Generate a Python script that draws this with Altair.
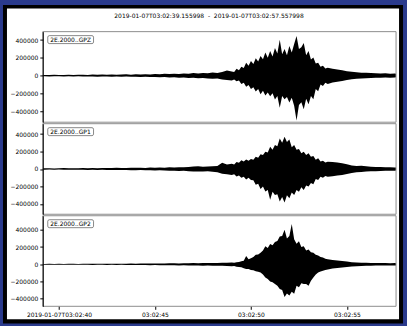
import altair as alt
import pandas as pd

FONT = "DejaVu Sans"
BLUE = "#2a3a8c"

# sample times (seconds after 03:02:00)
times = [39.156,
         39.25, 39.5, 39.75, 40.0, 40.25, 40.5, 40.75, 41.0,
         41.25, 41.5, 41.75, 42.0, 42.25, 42.5, 42.75, 43.0,
         43.25, 43.5, 43.75, 44.0, 44.25, 44.5, 44.75, 45.0,
         45.25, 45.5, 45.75, 46.0, 46.25, 46.5, 46.75, 47.0,
         47.25, 47.5, 47.75, 48.0, 48.25, 48.5, 48.75, 49.0,
         49.25, 49.5, 49.75, 50.0, 50.25, 50.5, 50.75, 51.0,
         51.25, 51.5, 51.75, 52.0, 52.25, 52.5, 52.75, 53.0,
         53.25, 53.5, 53.75, 54.0, 54.25, 54.5, 54.75, 55.0,
         55.25, 55.5, 55.75, 56.0, 56.25, 56.5, 56.75, 57.0, 57.25, 57.5,
         57.558]
# extra samples in the strong-motion part
mid_times = [49.125, 49.375, 49.625, 49.875, 50.125, 50.375, 50.625, 50.875,
             51.125, 51.375, 51.625, 51.875, 52.125, 52.375, 52.625, 52.875,
             53.125, 53.375, 53.625, 53.875]

# envelopes, in thousands of counts (upper max, lower |min|)
gpz_upper = [7,
             8, 6, 9, 7, 8, 10, 7, 9,
             10, 8, 12, 9, 11, 10, 13, 9,
             12, 14, 10, 15, 12, 16, 13, 18,
             15, 20, 17, 22, 18, 25, 20, 28,
             24, 30, 26, 34, 30, 40, 58, 45,
             78, 100, 145, 165, 195, 222, 260, 278,
             310, 405, 300, 333, 355, 300, 366, 278,
             205, 145, 111, 89, 78, 69, 61, 50,
             42, 39, 33, 31, 29, 27, 24, 26, 22, 23,
             20]
gpz_upper_mid = [40, 60, 85, 110, 130, 160, 185, 200,
                 215, 250, 240, 230, 260, 446, 320, 230,
                 180, 135, 100, 80]
gpz_lower = [7,
             7, 9, 6, 8, 9, 7, 10, 8,
             9, 11, 10, 12, 10, 9, 12, 11,
             13, 11, 14, 12, 15, 13, 17, 15,
             18, 16, 21, 19, 24, 22, 26, 25,
             30, 27, 32, 36, 33, 45, 50, 55,
             65, 95, 125, 150, 180, 209, 225, 232,
             270, 362, 267, 303, 340, 330, 378, 322,
             267, 175, 118, 95, 78, 70, 62, 50,
             40, 36, 32, 30, 28, 25, 24, 22, 23, 21,
             20]
gpz_lower_mid = [45, 55, 80, 105, 130, 150, 170, 190,
                 200, 230, 230, 240, 250, 507, 300, 260,
                 230, 150, 100, 80]

gp1_upper = [7,
             7, 9, 6, 8, 10, 7, 9, 8,
             10, 9, 11, 8, 12, 10, 11, 13,
             12, 11, 14, 13, 15, 12, 16, 14,
             17, 15, 19, 18, 21, 20, 24, 28,
             30, 26, 28, 32, 35, 72, 50, 60,
             80, 100, 110, 115, 140, 170, 198, 255,
             274, 350, 370, 339, 274, 230, 198, 179,
             150, 122, 95, 84, 80, 75, 65, 55,
             40, 35, 38, 30, 26, 24, 22, 20, 19, 18,
             18]
gp1_upper_mid = [50, 70, 85, 95, 105, 130, 160, 190,
                 220, 260, 300, 310, 250, 220, 180, 160,
                 140, 105, 85, 75]
gp1_lower = [8,
             8, 7, 9, 7, 9, 8, 10, 8,
             9, 11, 10, 12, 9, 11, 13, 12,
             13, 12, 15, 14, 13, 16, 15, 17,
             16, 18, 20, 19, 22, 21, 25, 30,
             28, 30, 27, 33, 38, 55, 60, 70,
             85, 100, 120, 125, 180, 230, 259, 354,
             297, 373, 385, 335, 297, 260, 240, 202,
             175, 126, 100, 88, 82, 76, 68, 58,
             45, 38, 36, 30, 27, 25, 23, 21, 20, 19,
             18]
gp1_lower_mid = [60, 75, 90, 100, 130, 170, 200, 240,
                 260, 290, 320, 300, 270, 240, 210, 190,
                 160, 115, 90, 80]

gp2_upper = [4,
             4, 5, 3, 5, 4, 6, 5, 4,
             5, 6, 5, 7, 6, 5, 7, 6,
             7, 6, 8, 7, 9, 8, 10, 9,
             10, 9, 11, 12, 10, 13, 12, 14,
             13, 15, 14, 16, 15, 18, 17, 22,
             25, 35, 95, 70, 110, 133, 210, 235,
             260, 324, 400, 330, 290, 267, 210, 171,
             133, 103, 80, 60, 50, 45, 38, 33,
             25, 22, 18, 17, 16, 15, 14, 15, 13, 14,
             13]
gp2_upper_mid = [18, 28, 40, 60, 85, 115, 160, 190,
                 220, 270, 330, 300, 469, 240, 200, 160,
                 140, 110, 85, 65]
gp2_lower = [5,
             5, 4, 5, 4, 6, 5, 4, 5,
             6, 5, 7, 6, 5, 7, 6, 7,
             6, 8, 7, 9, 8, 9, 10, 9,
             11, 10, 12, 11, 13, 12, 14, 13,
             14, 16, 15, 17, 16, 18, 20, 24,
             28, 35, 55, 65, 80, 95, 152, 200,
             229, 286, 381, 362, 343, 267, 229, 248,
             152, 95, 75, 60, 50, 42, 37, 32,
             26, 22, 19, 17, 16, 15, 14, 14, 13, 13,
             13]
gp2_lower_mid = [20, 30, 45, 55, 70, 88, 120, 170,
                 210, 250, 300, 340, 320, 250, 220, 230,
                 190, 120, 85, 65]

channels = ["2E.2000..GPZ", "2E.2000..GP1", "2E.2000..GP2"]
y_domains = [[-525000, 495000], [-519000, 519000], [-488000, 564000]]
y_ticks = [-400000, -200000, 0, 200000, 400000]
x_ticks = [40, 45, 50, 55]
title_text = "2019-01-07T03:02:39.155998\u00a0\u00a0-\u00a0\u00a02019-01-07T03:02:57.557998"

W = 355
H = 91
dummy = alt.Data(values=[{"k": 1}])


def panel(idx, up, up_mid, lo, lo_mid):
    df = pd.DataFrame({"t": times + mid_times,
                       "top": [v * 1000 for v in up + up_mid],
                       "bottom": [-v * 1000 for v in lo + lo_mid]})
    df = df.sort_values("t").reset_index(drop=True)
    last = idx == 2
    xscale = alt.Scale(domain=[39.155998, 57.557998], nice=False, zero=False)
    if last:
        xaxis = alt.Axis(values=x_ticks,
                         labelExpr="datum.value == 40 ? '2019-01-07T03:02:40' : '03:02:' + datum.value",
                         title=None, grid=False, domain=False, tickSize=3,
                         tickColor="black", labelFontSize=6, labelPadding=2,
                         labelFont=FONT, labelColor="black", zindex=1)
    else:
        xaxis = None
    yaxis = alt.Axis(values=y_ticks, format="d", title=None, grid=False,
                     domainColor="black", domainWidth=1, tickColor="black",
                     tickSize=3, labelFontSize=6, labelFont=FONT,
                     labelColor="black", labelPadding=2, zindex=1)
    area = alt.Chart(df).mark_area(color="black", interpolate="linear").encode(
        x=alt.X("t:Q", scale=xscale, axis=xaxis),
        y=alt.Y("top:Q", scale=alt.Scale(domain=y_domains[idx], nice=False, zero=False), axis=yaxis),
        y2="bottom:Q",
    )
    frame = alt.Chart(dummy).mark_rect(fillOpacity=0, stroke="#8c8c8c", strokeWidth=1).encode(
        x=alt.value(0), x2=alt.value(W), y=alt.value(0), y2=alt.value(H))
    box = alt.Chart(dummy).mark_rect(fill="white", stroke="#555555", strokeWidth=0.7,
                                     cornerRadius=1.5).encode(
        x=alt.value(5), x2=alt.value(51), y=alt.value(4), y2=alt.value(12))
    label = alt.Chart(dummy).mark_text(align="left", baseline="middle", fontSize=6,
                                       font=FONT, color="black").encode(
        x=alt.value(7.5), y=alt.value(8.2), text=alt.value(channels[idx]))
    layers = []
    if idx == 0:
        outer = alt.Chart(dummy).mark_rect(color="black").encode(
            x=alt.value(-40), x2=alt.value(362), y=alt.value(-26.7), y2=alt.value(293.3))
        inner = alt.Chart(dummy).mark_rect(color="white").encode(
            x=alt.value(-36), x2=alt.value(358), y=alt.value(-23.3), y2=alt.value(289))
        title = alt.Chart(dummy).mark_text(align="center", baseline="middle", fontSize=6,
                                           font=FONT, color="black").encode(
            x=alt.value(167), y=alt.value(-16), text=alt.value(title_text))
        layers += [outer, inner, title]
    layers += [area, frame, box, label]
    return alt.layer(*layers).properties(width=W, height=H)


chart = alt.vconcat(
    panel(0, gpz_upper, gpz_upper_mid, gpz_lower, gpz_lower_mid),
    panel(1, gp1_upper, gp1_upper_mid, gp1_lower, gp1_lower_mid),
    panel(2, gp2_upper, gp2_upper_mid, gp2_lower, gp2_lower_mid),
    spacing=1.5, bounds="flush",
).properties(
    background=BLUE,
    padding={"left": 2, "top": 3, "right": 3, "bottom": 3},
    autosize=alt.AutoSizeParams(type="pad"),
).configure_view(stroke="transparent")

chart.save("out.html", embed_options={"renderer": "svg", "actions": False})
